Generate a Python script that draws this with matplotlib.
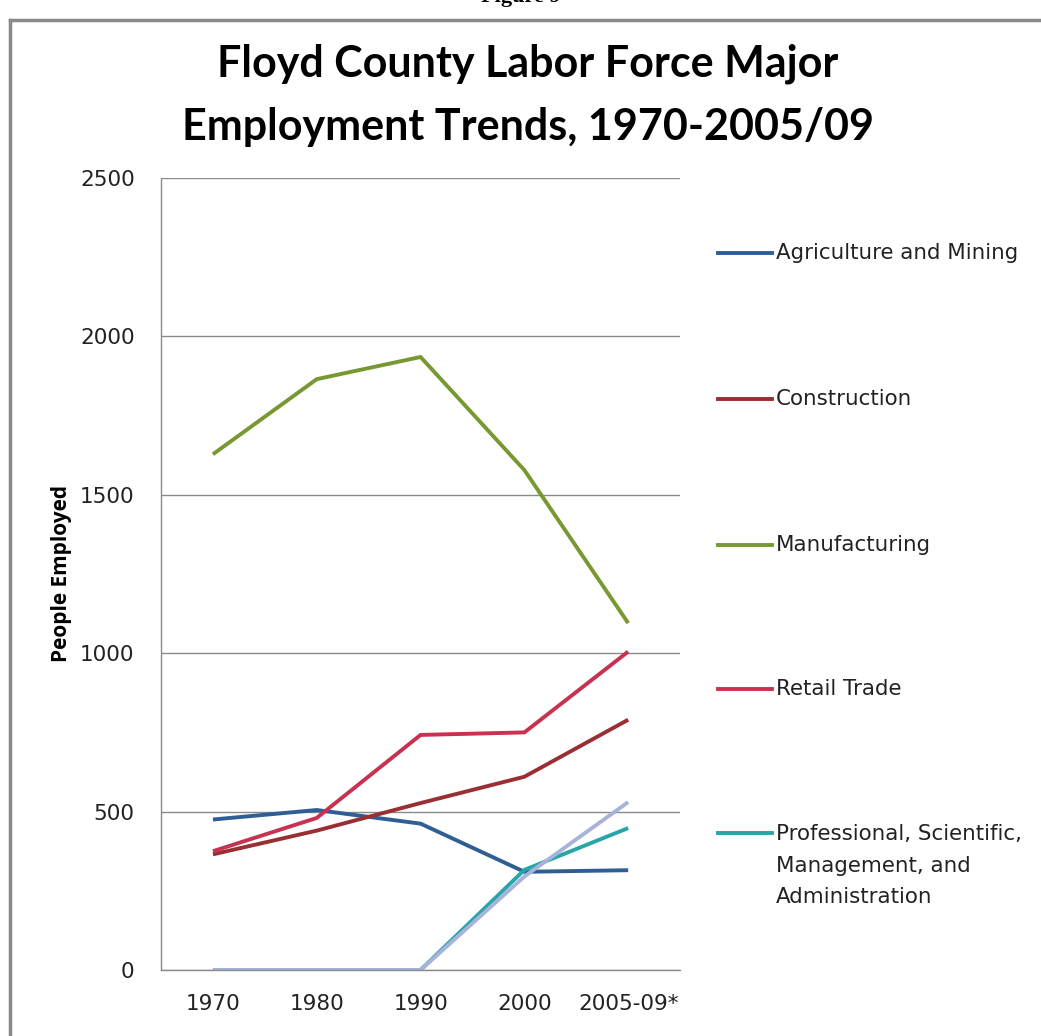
import matplotlib
matplotlib.use("Agg")
import matplotlib.pyplot as plt
from matplotlib.lines import Line2D

# employment by sector, Floyd County
periods = ["1970", "1980", "1990", "2000", "2005-09*"]
agriculture = [475, 505, 462, 310, 315]
construction = [365, 440, 527, 610, 790]
manufacturing = [1628, 1865, 1935, 1578, 1095]
retail = [375, 480, 742, 750, 1005]
professional = [0, 0, 0, 316, 448]
other = [0, 0, 0, 295, 530]

series = [
    ("Agriculture and Mining", agriculture, "#2E5E93"),
    ("Construction", construction, "#9A2F33"),
    ("Manufacturing", manufacturing, "#789832"),
    ("Retail Trade", retail, "#C6324F"),
    ("Professional, Scientific,\nManagement, and\nAdministration", professional, "#27A5A8"),
    (None, other, "#A8B3DA"),
]

fig = plt.figure(figsize=(10.41, 10.36), dpi=100)
ax = fig.add_axes([0.1547, 0.0637, 0.4986, 0.7645])

x = list(range(len(periods)))
for name, vals, col in series:
    ax.plot(x, vals, color=col, lw=2.8, solid_capstyle="butt", solid_joinstyle="miter")

ax.set_xlim(-0.5, len(periods) - 0.5)
ax.set_ylim(0, 2500)
ax.set_yticks([0, 500, 1000, 1500, 2000, 2500])
ax.set_xticks(x)
ax.set_xticklabels(periods)
ax.tick_params(length=0, labelsize=15.5, colors="#222222")
ax.tick_params(axis="x", pad=17)
ax.tick_params(axis="y", pad=19)
ax.yaxis.grid(True, color="#8a8a8a", lw=1)
ax.set_axisbelow(True)
for side in ("top", "right"):
    ax.spines[side].set_visible(False)
for side in ("left", "bottom"):
    ax.spines[side].set_color("#8a8a8a")
    ax.spines[side].set_linewidth(1)
ax.set_ylabel("People Employed", fontsize=15, fontweight="bold", family="Open Sans",
              labelpad=6)

fig.text(0.507, 0.908, "Floyd County Labor Force Major\nEmployment Trends, 1970-2005/09",
         ha="center", va="center", fontsize=31, fontweight="bold", family="Lato",
         linespacing=1.69)

# legend drawn by hand so the wrapped label lines up with its first row
leg_y = [253, 399, 545, 689, 833]
H = 1036.0
W = 1041.0
for (name, vals, col), yy in zip(series[:5], leg_y):
    fy = 1 - yy / H
    fig.add_artist(Line2D([718 / W, 772 / W], [fy, fy], transform=fig.transFigure,
                          color=col, lw=2.8))
    if "\n" in name:
        fig.text(776 / W, 1 - (yy - 9) / H, name, ha="left", va="top",
                 fontsize=15.4, color="#222222", linespacing=1.72)
    else:
        fig.text(776 / W, fy, name, ha="left", va="center",
                 fontsize=15.4, color="#222222")

# page frame and caption above the chart
fig.add_artist(Line2D([10 / W, 10 / W], [0, 1 - 20 / H], transform=fig.transFigure,
                      color="#8a8a8a", lw=2.5))
fig.add_artist(Line2D([10 / W, 1], [1 - 20 / H, 1 - 20 / H], transform=fig.transFigure,
                      color="#8a8a8a", lw=2.5))
fig.text(0.5, 1.003, "Figure 9", ha="center", va="center", fontsize=16,
         fontweight="bold", family="Liberation Serif")

fig.savefig("out.png", dpi=100)
